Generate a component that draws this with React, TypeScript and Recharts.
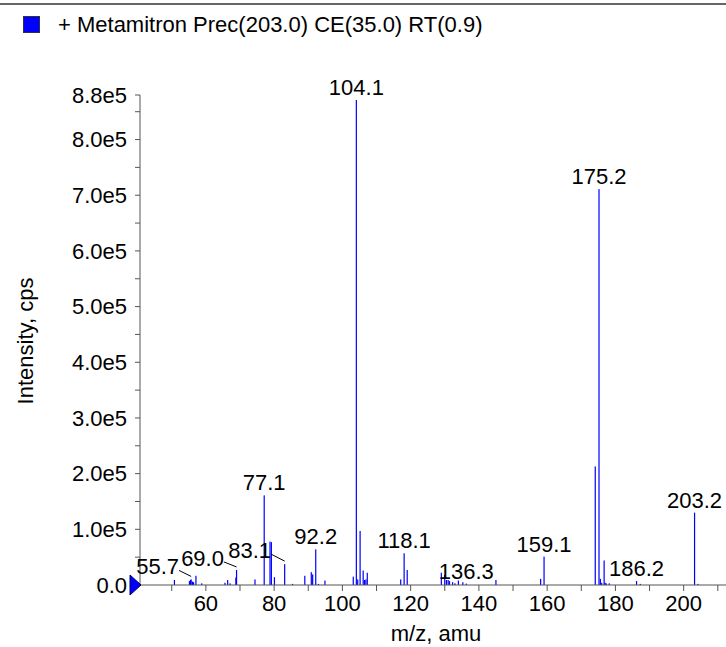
import React from 'react';
import {
  ComposedChart, Bar, XAxis, YAxis, LabelList, ReferenceDot
} from 'recharts';

const FONT = '"Liberation Sans", Arial, Helvetica, sans-serif';
const BLUE = '#0000ff';

// peak list: m/z and intensity (cps)
const MZ = [
  50.8, 55.2, 55.5, 55.7, 56.1, 56.4, 57.1, 58.8, 65.6, 66.4, 67.1, 68.8, 69.0,
  74.4, 77.1, 78.8, 79.2, 80.1, 83.1, 85.4, 89.0, 90.9, 91.3, 92.2, 93.0, 94.9,
  103.2, 104.1, 104.5, 105.2, 106.1, 106.5, 106.9, 107.3, 117.1, 118.1, 119.0,
  129.0, 130.0, 130.5, 131.0, 131.4, 132.3, 133.0, 134.0, 135.3, 136.3, 145.0,
  158.1, 159.1, 174.1, 175.2, 175.6, 176.0, 176.7, 177.0, 177.3, 178.2, 186.2,
  187.3, 203.2, 204.2,
];
const INTENSITY = [
  9000, 7000, 9000, 10000, 6000, 5000, 16600, 3000, 4000, 9000, 3000, 13500, 27000,
  10000, 161000, 78000, 77000, 14000, 37500, 2000, 16600, 23000, 19000, 64000, 2000, 8000,
  15000, 871000, 10000, 97000, 26000, 9000, 10000, 22000, 10000, 57000, 27000,
  22000, 18000, 9000, 9000, 7000, 5000, 3000, 8000, 5000, 2500, 9000,
  11000, 51000, 213000, 711000, 11000, 4000, 44000, 4000, 3000, 3000, 7000,
  2000, 130000, 2000,
];
// peaks that carry an m/z tag
const TAGGED = [55.7, 69.0, 77.1, 83.1, 92.2, 104.1, 118.1, 136.3, 159.1, 175.2, 186.2, 203.2];

const X_TICKS = [50, 60, 70, 80, 90, 100, 110, 120, 130, 140, 150, 160, 170, 180, 190, 200, 210];
const Y_TICKS = [
  0, 50000, 100000, 150000, 200000, 250000, 300000, 350000, 400000, 450000,
  500000, 550000, 600000, 650000, 700000, 750000, 800000, 850000, 880000,
];

// tags pushed sideways with a leader line
const TAG_SHIFT: Record<string, [number, number]> = {
  '55.7': [-33.5, 0],
  '69.0': [-34, 1],
  '83.1': [-35, -1],
};

const data = MZ.map((mz, i) => ({
  mz,
  intensity: INTENSITY[i],
  tag: TAGGED.includes(mz) ? mz.toFixed(1) : undefined,
}));

const Stick = (props: any) => {
  const { x, y, width, height } = props;
  if (height == null || height <= 0) return null;
  const cx = x + width / 2;
  return <rect x={cx - 0.6} y={y} width={1.2} height={height} fill={BLUE} />;
};

const PeakTag = (props: any) => {
  const { x, y, width, value } = props;
  if (!value) return null;
  const px = x + width / 2;
  const shift = TAG_SHIFT[value];
  const dx = shift ? shift[0] : 0;
  const dy = shift ? shift[1] : 0;
  const base = y - 5 + dy;
  const tx = px + dx;
  const half = value.length * 5.6;
  return (
    <g>
      <text x={tx} y={base} textAnchor="middle" fontSize={22} fontFamily={FONT} fill="#000">
        {value}
      </text>
      {shift && (
        <line x1={tx + half - 1} y1={base - 4} x2={px} y2={y - 3} stroke="#000" strokeWidth={1} />
      )}
    </g>
  );
};

const Marker = (props: any) => {
  const { cx, cy } = props;
  return (
    <polygon
      points={`${cx - 10},${cy - 10} ${cx + 1},${cy} ${cx - 10},${cy + 10}`}
      fill={BLUE}
      stroke="#000066"
      strokeWidth={1}
    />
  );
};

export default function App() {
  return (
    <div style={{ position: 'absolute', left: 0, top: 0, width: 726, height: 647, background: '#fff', fontFamily: FONT }}>
      <div style={{ position: 'absolute', left: 0, top: 3, width: 726, height: 2, background: '#666' }} />
      <div style={{ position: 'absolute', left: 23, top: 16, width: 15, height: 15, background: BLUE, border: '1px solid #333' }} />
      <div style={{ position: 'absolute', left: 58, top: 12, fontSize: 22, color: '#000', whiteSpace: 'nowrap' }}>
        + Metamitron Prec(203.0) CE(35.0) RT(0.9)
      </div>
      <ComposedChart
        width={726}
        height={647}
        data={data}
        margin={{ top: 95, right: 0, bottom: 32, left: 0 }}
        barGap={0}
      >
        <XAxis
          dataKey="mz"
          type="number"
          domain={[40.7, 212.4]}
          allowDataOverflow
          ticks={X_TICKS}
          interval={0}
          tickFormatter={(v: number) => (v % 20 === 0 ? String(v) : '')}
          tick={{ fontSize: 22, fill: '#000', fontFamily: FONT }}
          tickSize={6}
          tickMargin={4}
          stroke="#555"
          height={30}
          label={{
            content: (p: any) => (
              <text x={436} y={641} textAnchor="middle" fontSize={22} fontFamily={FONT} fill="#000">
                m/z, amu
              </text>
            ),
          }}
        />
        <YAxis
          type="number"
          domain={[0, 880000]}
          ticks={Y_TICKS}
          interval={0}
          tickFormatter={(v: number) =>
            v === 0 ? '0.0' : v % 100000 === 0 || v === 880000 ? (v / 100000).toFixed(1) + 'e5' : ''
          }
          tick={{ fontSize: 22, fill: '#000', fontFamily: FONT }}
          tickSize={5}
          tickMargin={8}
          stroke="#555"
          width={140}
          label={{
            content: (p: any) => (
              <text
                x={33}
                y={341}
                transform="rotate(-90 33 341)"
                textAnchor="middle"
                fontSize={22}
                fontFamily={FONT}
                fill="#000"
              >
                Intensity, cps
              </text>
            ),
          }}
        />
        <Bar dataKey="intensity" barSize={1.2} shape={<Stick />} isAnimationActive={false}>
          <LabelList dataKey="tag" content={<PeakTag />} />
        </Bar>
        <ReferenceDot x={40.7} y={0} ifOverflow="visible" shape={<Marker />} />
      </ComposedChart>
    </div>
  );
}
